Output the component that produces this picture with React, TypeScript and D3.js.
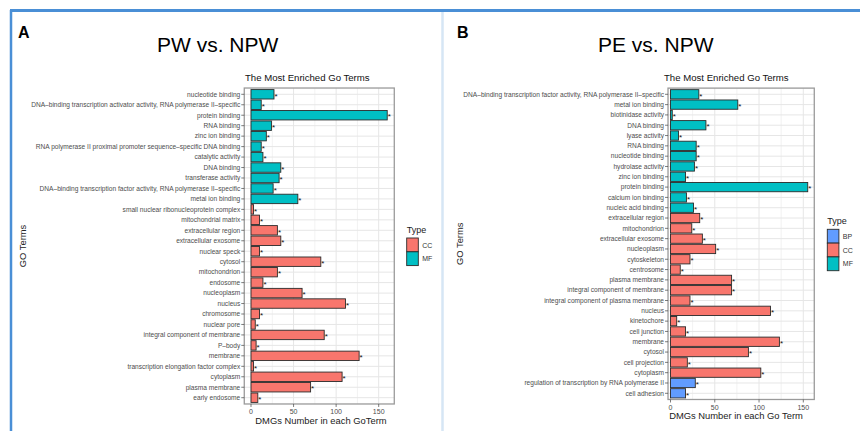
import React from 'react';
import * as d3 from 'd3';

// ---- data ----
const typeColors: Record<string, string> = { BP: '#619CFF', CC: '#F8766D', MF: '#00BFC4' };
const xTicks = [0, 50, 100, 150];
const xMinor = [25, 75, 125];

const termsA = [
    'nucleotide binding',
    'DNA–binding transcription activator activity, RNA polymerase II–specific',
    'protein binding',
    'RNA binding',
    'zinc ion binding',
    'RNA polymerase II proximal promoter sequence–specific DNA binding',
    'catalytic activity',
    'DNA binding',
    'transferase activity',
    'DNA–binding transcription factor activity, RNA polymerase II–specific',
    'metal ion binding',
    'small nuclear ribonucleoprotein complex',
    'mitochondrial matrix',
    'extracellular region',
    'extracellular exosome',
    'nuclear speck',
    'cytosol',
    'mitochondrion',
    'endosome',
    'nucleoplasm',
    'nucleus',
    'chromosome',
    'nuclear pore',
    'integral component of membrane',
    'P–body',
    'membrane',
    'transcription elongation factor complex',
    'cytoplasm',
    'plasma membrane',
    'early endosome',
];
const valuesA = [27, 12, 160, 24, 18, 12, 14, 35, 33, 26, 55, 3, 10, 31, 35, 10, 82, 31, 14, 60, 111, 10, 5, 86, 6, 127, 3, 107, 70, 8];
const typesA = [
    'MF', 'MF', 'MF', 'MF', 'MF', 'MF', 'MF', 'MF', 'MF', 'MF', 'MF',
    'CC', 'CC', 'CC', 'CC', 'CC', 'CC', 'CC', 'CC', 'CC', 'CC',
    'CC', 'CC', 'CC', 'CC', 'CC', 'CC', 'CC', 'CC', 'CC',
];
const legendA = ['CC', 'MF'];

const termsB = [
    'DNA–binding transcription factor activity, RNA polymerase II–specific',
    'metal ion binding',
    'biotinidase activity',
    'DNA binding',
    'lyase activity',
    'RNA binding',
    'nucleotide binding',
    'hydrolase activity',
    'zinc ion binding',
    'protein binding',
    'calcium ion binding',
    'nucleic acid binding',
    'extracellular region',
    'mitochondrion',
    'extracellular exosome',
    'nucleoplasm',
    'cytoskeleton',
    'centrosome',
    'plasma membrane',
    'integral component of membrane',
    'integral component of plasma membrane',
    'nucleus',
    'kinetochore',
    'cell junction',
    'membrane',
    'cytosol',
    'cell projection',
    'cytoplasm',
    'regulation of transcription by RNA polymerase II',
    'cell adhesion',
];
const valuesB = [32, 76, 2, 40, 9, 29, 29, 27, 17, 155, 18, 26, 33, 24, 36, 51, 22, 11, 69, 69, 22, 113, 7, 17, 123, 88, 19, 102, 28, 17];
const typesB = [
    'MF', 'MF', 'MF', 'MF', 'MF', 'MF', 'MF', 'MF', 'MF', 'MF', 'MF', 'MF',
    'CC', 'CC', 'CC', 'CC', 'CC', 'CC', 'CC', 'CC', 'CC', 'CC', 'CC', 'CC', 'CC', 'CC', 'CC', 'CC',
    'BP', 'BP',
];
const legendB = ['BP', 'CC', 'MF'];

const FONT = '"Liberation Sans", Arial, sans-serif';

type PanelProps = {
    letter: string;
    letterX: number;
    title: string;
    titleX: number;
    subX: number;
    terms: string[];
    values: number[];
    types: string[];
    legend: string[];
    xRange: [number, number]; // pixel for 0 and 150
    xLimits: [number, number];
    yFirst: number;
    yLast: number;
    xTitle: string;
    xTitleX: number;
    gotermsX: number;
    legendX: number;
    legendY: number;
};

function Panel(p: PanelProps) {
    const x = d3.scaleLinear().domain([0, 150]).range(p.xRange);
    const y = d3.scalePoint<string>().domain(p.terms).range([p.yFirst, p.yLast]);
    const step = y.step();
    const barH = step * 0.9;
    const left = x(p.xLimits[0]);
    const right = x(p.xLimits[1]);
    const top = p.yFirst - step * 0.6;
    const bottom = p.yLast + step * 0.6;

    return (
        <g fontFamily={FONT}>
            <text x={p.letterX} y={38} fontSize={16} fontWeight="bold">{p.letter}</text>
            <text x={p.titleX} y={52} fontSize={21}>{p.title}</text>
            <text x={p.subX} y={81} fontSize={9.6} fill="#111">The Most Enriched Go Terms</text>

            {/* panel background + grid */}
            <rect x={left} y={top} width={right - left} height={bottom - top} fill="#fff" />
            {xMinor.map(t => (
                <line key={'mn' + t} x1={x(t)} x2={x(t)} y1={top} y2={bottom} stroke="#EDEDED" strokeWidth={0.7} />
            ))}
            {xTicks.map(t => (
                <line key={'mj' + t} x1={x(t)} x2={x(t)} y1={top} y2={bottom} stroke="#E6E6E6" strokeWidth={1} />
            ))}
            {p.terms.map(t => (
                <line key={'h' + t} x1={left} x2={right} y1={y(t)} y2={y(t)} stroke="#E6E6E6" strokeWidth={1} />
            ))}

            {/* bars */}
            {p.terms.map((t, i) => (
                <g key={'b' + i}>
                    <rect
                        x={x(0)}
                        y={(y(t) as number) - barH / 2}
                        width={x(p.values[i]) - x(0)}
                        height={barH}
                        fill={typeColors[p.types[i]]}
                        stroke="#2b2b2b"
                        strokeWidth={0.9}
                    />
                    <text x={x(p.values[i]) + 0.5} y={(y(t) as number) + 4.2} fontSize={8} fill="#111">*</text>
                </g>
            ))}

            <rect x={left} y={top} width={right - left} height={bottom - top} fill="none" stroke="#9a9a9a" strokeWidth={1.3} />

            {/* y axis */}
            {p.terms.map(t => (
                <g key={'yl' + t}>
                    <line x1={left - 3} x2={left} y1={y(t)} y2={y(t)} stroke="#444" strokeWidth={0.7} />
                    <text x={left - 4} y={(y(t) as number) + 2.3} fontSize={6.6} fill="#4D4D4D" textAnchor="end">{t}</text>
                </g>
            ))}

            {/* x axis */}
            {xTicks.map(t => (
                <g key={'xt' + t}>
                    <line x1={x(t)} x2={x(t)} y1={bottom} y2={bottom + 3} stroke="#444" strokeWidth={0.7} />
                    <text x={x(t)} y={bottom + 10.5} fontSize={7} fill="#4D4D4D" textAnchor="middle">{t}</text>
                </g>
            ))}
            <text x={p.xTitleX} y={bottom + 20} fontSize={9.4} fill="#222" textAnchor="middle">{p.xTitle}</text>
            <text
                transform={`translate(${p.gotermsX},${(top + bottom) / 2}) rotate(-90)`}
                fontSize={9.4}
                fill="#222"
                textAnchor="middle"
            >GO Terms</text>

            {/* legend */}
            <text x={p.legendX} y={p.legendY} fontSize={9} fill="#222">Type</text>
            {p.legend.map((k, i) => (
                <g key={'lg' + k}>
                    <rect
                        x={p.legendX}
                        y={p.legendY + 5 + i * 13.8}
                        width={11.6}
                        height={13.8}
                        fill={typeColors[k]}
                        stroke="#2b2b2b"
                        strokeWidth={0.9}
                    />
                    <text x={p.legendX + 15.5} y={p.legendY + 5 + i * 13.8 + 9.5} fontSize={7} fill="#333">{k}</text>
                </g>
            ))}
        </g>
    );
}

export default function App() {
    return (
        <svg width={860} height={431} style={{ position: 'absolute', left: 0, top: 0 }}>
            <rect x={0} y={0} width={860} height={431} fill="#fff" />
            {/* figure frame */}
            <line x1={10} x2={860} y1={10.5} y2={10.5} stroke="#4A8FD6" strokeWidth={3} />
            <line x1={11} x2={11} y1={10} y2={431} stroke="#4A8FD6" strokeWidth={2.5} />
            <line x1={442.5} x2={442.5} y1={12} y2={431} stroke="#D6E6F5" strokeWidth={2.5} />

            <Panel
                letter="A"
                letterX={18}
                title="PW vs. NPW"
                titleX={157}
                subX={245}
                terms={termsA}
                values={valuesA}
                types={typesA}
                legend={legendA}
                xRange={[251, 378.7]}
                xLimits={[-7.9, 168.3]}
                yFirst={94.3}
                yLast={397.7}
                xTitle="DMGs Number in each GoTerm"
                xTitleX={321}
                gotermsX={26}
                legendX={406.7}
                legendY={233}
            />
            <Panel
                letter="B"
                letterX={457}
                title="PE vs. NPW"
                titleX={598}
                subX={664}
                terms={termsB}
                values={valuesB}
                types={typesB}
                legend={legendB}
                xRange={[670.5, 803.3]}
                xLimits={[-2.8, 162.4]}
                yFirst={94.3}
                yLast={393.3}
                xTitle="DMGs Number in each Go Term"
                xTitleX={736}
                gotermsX={463}
                legendX={827.3}
                legendY={224.3}
            />
        </svg>
    );
}
